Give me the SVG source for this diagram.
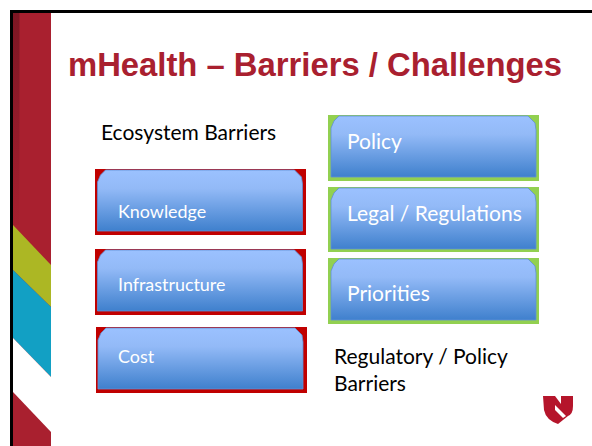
<svg xmlns="http://www.w3.org/2000/svg" width="592" height="446" viewBox="0 0 592 446">
<style>
.lb{font-family:"Lato","Open Sans",sans-serif;fill:#fff}
.bk{font-family:"Lato","Open Sans",sans-serif;fill:#000;font-size:21px}
.red{fill:#c00000}
.grn{fill:#92d050}
.in{fill:url(#g);stroke:#5f8fd6;stroke-width:0.8}
</style>
<defs>
<linearGradient id="g" x1="0" y1="0" x2="0" y2="1">
<stop offset="0" stop-color="#9bc1ff"/><stop offset="0.3" stop-color="#93baf7"/><stop offset="1" stop-color="#3f80cd"/>
</linearGradient>
<linearGradient id="d" x1="0" y1="0" x2="0" y2="1">
<stop offset="0" stop-color="#7d1623"/><stop offset="0.45" stop-color="#8f1a29"/><stop offset="1" stop-color="#a51f2e"/>
</linearGradient>
<path id="s" d="M0 61V12L3 5L8 0H197L204 7L205 14V61Z"/>
</defs>
<rect width="592" height="446" fill="#fff"/>
<g id="sidebar">
<rect x="13" y="13" width="38" height="433" fill="#a9202f"/>
<rect x="13" y="13" width="6.500" height="212" fill="url(#d)"/>
<polygon points="13,225 51,265 51,307 13,270" fill="#acb724"/>
<polygon points="13,270 51,307 51,377 13,338" fill="#12a0c4"/>
<polygon points="13,338 51,377 51,432 13,392" fill="#fff"/>
</g>
<g id="frame" fill="#000">
<rect x="10" y="10" width="582" height="3"/>
<rect x="10" y="10" width="3" height="436"/>
</g>
<text id="title" x="68" y="76" font-family="Liberation Sans,Arial,sans-serif" font-weight="700" font-size="32.800" fill="#a9202f">mHealth – Barriers / Challenges</text>
<text id="ecosystem-label" class="bk" x="101" y="140">Ecosystem Barriers</text>
<g id="knowledge"><rect class="red" x="95" y="169" width="211" height="66"/><use href="#s" class="in" x="97.500" y="170"/><text class="lb" x="118" y="218" font-size="17.900">Knowledge</text></g>
<g id="infrastructure"><rect class="red" x="95" y="249" width="211" height="66"/><use href="#s" class="in" x="97.500" y="250"/><text class="lb" x="118" y="291" font-size="17.900">Infrastructure</text></g>
<g id="cost"><rect class="red" x="96" y="327" width="211" height="66"/><use href="#s" class="in" x="98" y="328"/><text class="lb" x="118" y="363" font-size="17.900">Cost</text></g>
<g id="policy"><rect class="grn" x="328" y="115" width="211" height="66"/><use href="#s" class="in" x="331" y="116"/><text class="lb" x="347" y="149" font-size="21px">Policy</text></g>
<g id="legal"><rect class="grn" x="328" y="187" width="211" height="65"/><use href="#s" class="in" x="331" y="188"/><text class="lb" x="347" y="221" font-size="21px">Legal / Regulations</text></g>
<g id="priorities"><rect class="grn" x="328" y="258" width="211" height="66"/><use href="#s" class="in" x="331" y="259"/><text class="lb" x="347" y="301" font-size="21px">Priorities</text></g>
<g id="regulatory-label"><text class="bk" x="334" y="364">Regulatory / Policy</text><text class="bk" x="334" y="391">Barriers</text></g>
<g id="logo"><path d="M543 396H555L561 404V396H573V406Q573 414 568 416L558 424Q546 420 544 410Z" fill="#b5152b"/><path d="M555 405L566 416L563 418L555 410Z" fill="#fff"/></g>
</svg>
